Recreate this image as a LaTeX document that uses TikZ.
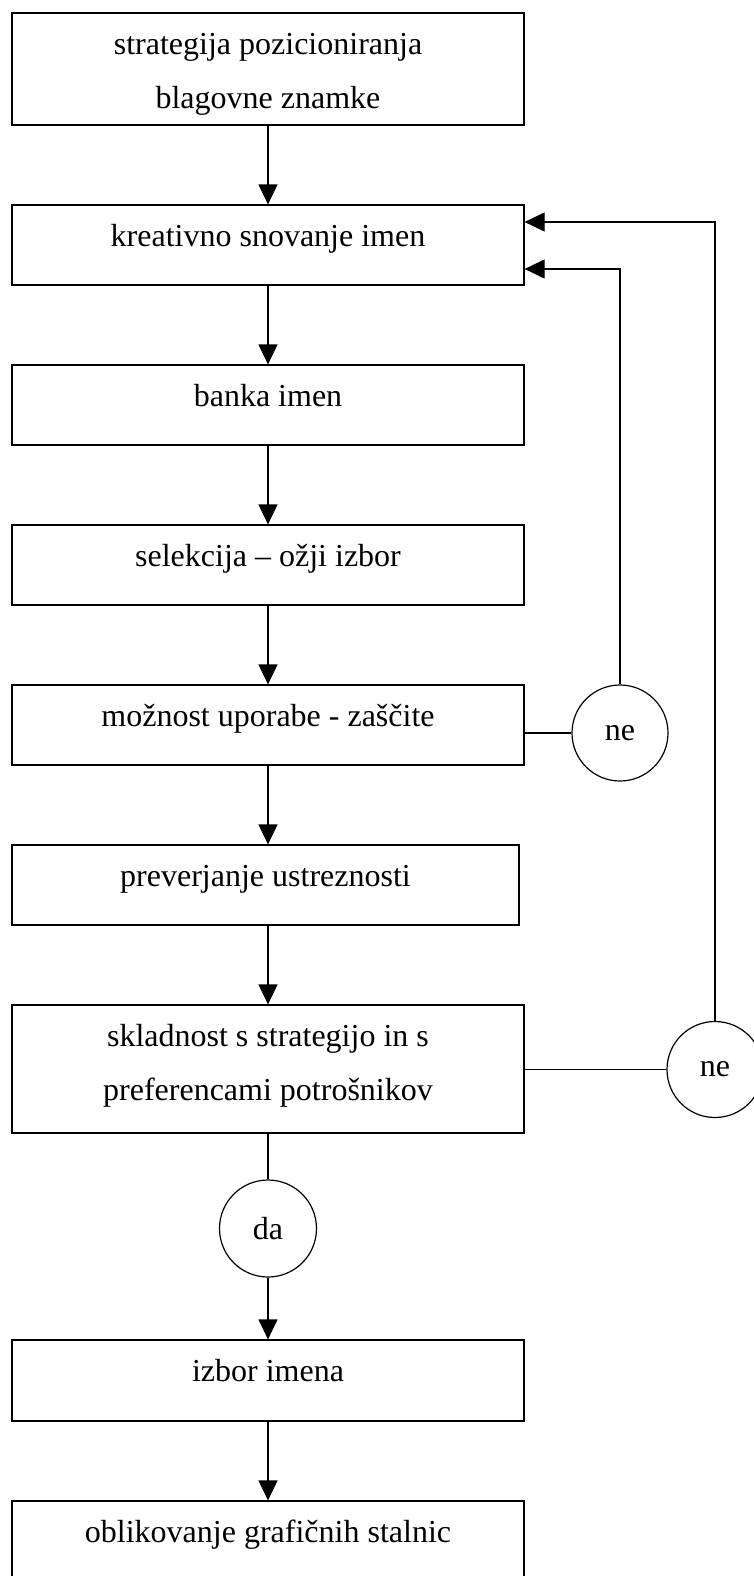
\documentclass[tikz,border=0pt]{standalone}
\usepackage{fontspec}
\setmainfont{Liberation Serif}
\usetikzlibrary{arrows.meta}

\tikzset{
  korak/.style={draw, rectangle, minimum width=512pt, inner sep=0pt,
    text height=41pt, text depth=39pt, align=center},
  odlocitev/.style={draw, circle, minimum size=96pt, inner sep=0pt},
  puscica/.style={-{Triangle[length=20pt,width=19pt]}}
}

\begin{document}
\begin{tikzpicture}[x=1pt, y=-1pt, line width=1.2pt,
  font=\fontsize{32pt}{54pt}\selectfont]
\useasboundingbox (0,0) rectangle (754,1576);
  \node[korak, text height=96pt, text depth=16pt] (strategija) at (268,69)
    {strategija pozicioniranja\\blagovne znamke};
  \node[korak] (kreativno) at (268,245) {kreativno snovanje imen};
  \node[korak] (banka) at (268,405) {banka imen};
  \node[korak] (selekcija) at (268,565) {selekcija -- ožji izbor};
  \node[korak] (moznost) at (268,725) {možnost uporabe - zaščite};
  \node[korak, minimum width=507pt] (preverjanje) at (265.5,885) {preverjanje ustreznosti};
  \node[korak, text height=95pt, text depth=33pt] (skladnost) at (268,1069)
    {skladnost s strategijo in s\\preferencami potrošnikov};
  \node[korak, text depth=40pt] (izbor) at (268,1380.5) {izbor imena};
  \node[korak] (oblikovanje) at (268,1541) {oblikovanje grafičnih stalnic};

  \node[odlocitev] (ne1) at (620,733) {ne};
  \node[odlocitev] (ne2) at (715,1069.5) {ne};
  \node[odlocitev, minimum size=97pt] (da) at (268,1228.5) {da};

  \draw[puscica] (strategija) -- (kreativno);
  \draw[puscica] (kreativno) -- (banka);
  \draw[puscica] (banka) -- (selekcija);
  \draw[puscica] (selekcija) -- (moznost);
  \draw[puscica] (moznost.south) -- (moznost.south |- preverjanje.north);
  \draw[puscica] (skladnost.north |- preverjanje.south) -- (skladnost.north);
  \draw (skladnost) -- (da);
  \draw[puscica] (da) -- (izbor);
  \draw[puscica] (izbor) -- (oblikovanje);

  \draw (ne1.west -| moznost.east) -- (ne1.west);
  \draw (ne2.west -| skladnost.east) -- (ne2.west);
  \draw[puscica] (ne1.north) |- ([yshift=-24pt]kreativno.east);
  \draw[puscica] (ne2.north) |- ([yshift=23pt]kreativno.east);
\end{tikzpicture}
\end{document}
